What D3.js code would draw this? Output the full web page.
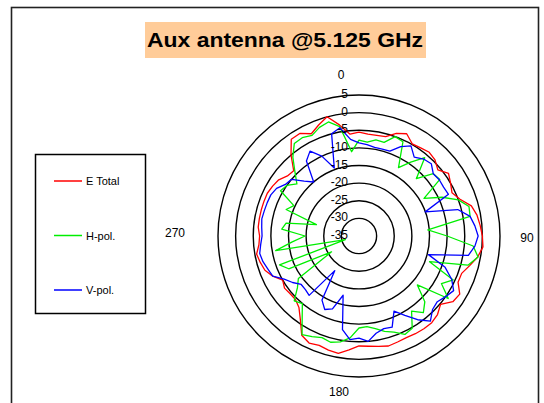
<!DOCTYPE html>
<html>
<head>
<meta charset="utf-8">
<script src="https://cdn.jsdelivr.net/npm/d3@7"></script>
<style>
  html, body { margin: 0; padding: 0; background: #fff; }
  svg { display: block; font-family: "Liberation Sans", Arial, sans-serif; }
</style>
</head>
<body>
<svg id="chart" width="544" height="403"></svg>
<script>
// ---- data ----
const title = "Aux antenna @5.125 GHz";
const angles = d3.range(0, 360, 5); // degrees, 0 at top, clockwise
const eTotal = [
  -5.5, -6, -6, -5.8, -4, -3, -4.8, -4.5, -4, -4.5, -5.8, -4,
  -5, -5.9, -4.5, -2, -1, -0.5, 0, 0.3, -0.8, -2.5, -4, -4,
  -2, -2.5, -4.8, -3.5, -2.9, -2.9, -3, -3.2, -3, -2.7, -3.2, -3.6,
  -3.8, -2.6, -1.2, -1.5, -2, -1.5, -2.5, -6, -8.5, -9.5, -9.5, -9.2,
  -10, -8, -6.6, -6, -5.5, -6.5, -6.8, -6.3, -6.3, -6.3, -6.3, -6.3,
  -6.7, -7.2, -8.5, -8.8, -5, -1.5, -1.4, -3, -1.5, 0, -3, -6
];
const hPol = [
  -7.8, -8.3, -7.3, -7.5, -5, -5.5, -12.6, -9.4, -6, -12, -7.5, -7,
  -13.7, -9, -5, -2.7, -3, -15.4, -10, -2.5, -0.7, -3, -13.7, -5.5,
  -8, -4.1, -13.4, -8.6, -6.6, -9, -4.8, -4.2, -6, -7, -8.3, -9.2,
  -8.9, -6, -4.5, -3.8, -4.3, -3.5, -2.7, -6.9, -10, -9, -12.2, -14,
  -26, -13, -11, -31, -11, -16, -19.7, -13, -14, -22.5, -13, -14.6,
  -9.3, -10, -12, -9.3, -5.8, -3, -2.8, -3.5, -2.2, -1.5, -3.5, -11
];
const vPol = [
  -8.6, -9, -9.5, -9.5, -9.4, -7, -5.5, -7.7, -6.5, -6, -7.5, -7.2,
  -7.3, -7, -15, -6, -3, -2, -1.2, -2, -3.5, -14.6, -9, -6,
  -4, -5, -6, -5.5, -3.5, -6, -9, -11.5, -7.5, -7.8, -7, -5,
  -6, -5.5, -8, -17.6, -13, -12, -14, -23, -13, -13.5, -13.6, -12,
  -10.5, -8, -7.5, -6.8, -6.4, -7, -7.5, -7.3, -7, -7.2, -7.3, -7.4,
  -8, -9.5, -10, -13, -15, -9, -7.2, -10, -14.5, -5, -3.8, -7.5
];
const ringValues = [-30, -25, -20, -15, -10, -5, 0, 5];
const ringLabels = [-35, -30, -25, -20, -15, -10, -5, 0, 5];
const angleTicks = [0, 90, 180, 270];
const seriesNames = ["E Total", "H-pol.", "V-pol."];
const seriesColors = ["#ff0000", "#00ee00", "#0000ff"];

// ---- drawing ----
const svg = d3.select("#chart");
const cx = 359, cy = 236;

svg.append("rect").attr("width", 544).attr("height", 403).attr("fill", "#fff");
// outer frame
svg.append("rect").attr("x", 11.5).attr("y", 7.5).attr("width", 527).attr("height", 420)
  .attr("fill", "none").attr("stroke", "#222").attr("stroke-width", 1.6);

// title
svg.append("rect").attr("x", 145).attr("y", 22).attr("width", 281).attr("height", 36)
  .attr("fill", "#ffcc99");
svg.append("text").attr("x", 147).attr("y", 47)
  .attr("font-size", 21).attr("font-weight", "bold").attr("fill", "#000")
  .attr("textLength", 276).attr("lengthAdjust", "spacingAndGlyphs")
  .text(title);

const r = d3.scaleLinear().domain([-35, 5]).range([0, 141]);
const g = svg.append("g").attr("transform", `translate(${cx},${cy})`);

// rings
g.selectAll("circle.ring").data(ringValues).join("circle")
  .attr("class", "ring").attr("r", d => r(d))
  .attr("fill", "none").attr("stroke", "#000").attr("stroke-width", 1.4);

// series
const series = [eTotal, hPol, vPol];
const line = d3.lineRadial()
  .angle((d, i) => angles[i] * Math.PI / 180)
  .radius(d => r(d))
  .curve(d3.curveLinearClosed);
g.selectAll("path.series").data(series).join("path")
  .attr("class", "series")
  .attr("d", d => line(d))
  .attr("fill", "none")
  .attr("stroke", (d, i) => seriesColors[i])
  .attr("stroke-width", 1.3)
  .attr("stroke-linejoin", "round");

// ring labels
g.selectAll("text.rl").data(ringLabels).join("text")
  .attr("class", "rl")
  .attr("x", -11).attr("y", d => -r(d) - 1)
  .attr("text-anchor", "end").attr("dominant-baseline", "central")
  .attr("font-size", 12).attr("fill", "#000")
  .text(d => d);

// angle labels
const angOff = {0: [-18, -161], 90: [168, 2], 180: [-20, 156], 270: [-184, -3]};
g.selectAll("text.al").data(angleTicks).join("text")
  .attr("class", "al")
  .attr("x", d => angOff[d][0]).attr("y", d => angOff[d][1])
  .attr("text-anchor", "middle").attr("dominant-baseline", "central")
  .attr("font-size", 12).attr("fill", "#000")
  .text(d => d);

// legend
svg.append("rect").attr("x", 35.5).attr("y", 154.5).attr("width", 110).attr("height", 159)
  .attr("fill", "#fff").attr("stroke", "#000").attr("stroke-width", 1.5);
const ly = d3.scalePoint().domain(seriesNames).range([181, 290]);
const leg = svg.selectAll("g.leg").data(seriesNames).join("g").attr("class", "leg")
  .attr("transform", d => `translate(0,${ly(d)})`);
leg.append("line").attr("x1", 54).attr("x2", 82)
  .attr("stroke", (d, i) => seriesColors[i]).attr("stroke-width", 1.5);
leg.append("text").attr("x", 86).attr("y", 0).attr("dominant-baseline", "central")
  .attr("font-size", 11).attr("fill", "#000").text(d => d);
</script>
</body>
</html>
